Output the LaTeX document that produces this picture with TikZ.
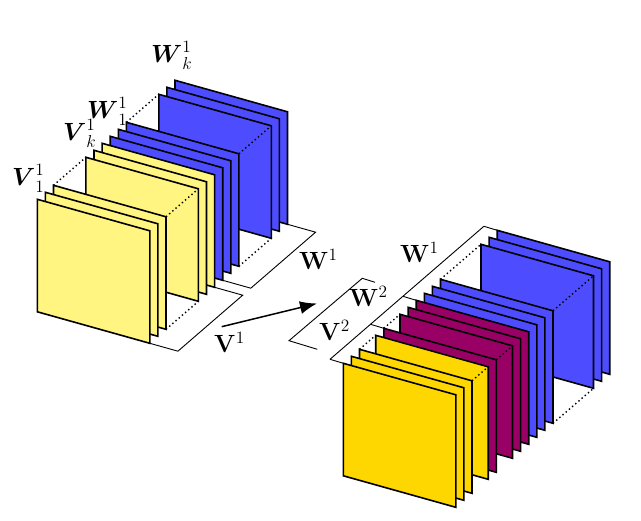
\documentclass[tikz,border=0pt]{standalone}
\usepackage{amsmath}
\usetikzlibrary{calc,arrows.meta}
\definecolor{lyel}{RGB}{255,245,128}
\definecolor{goldc}{RGB}{255,215,0}
\definecolor{purp}{RGB}{153,0,102}
\definecolor{blu}{RGB}{77,77,255}
\newcommand\sheetpl[3]{\filldraw[sheetst,fill=#3] ($(#1)+#2*(dv)$) -- ++(112.5,31.5) -- ++(0,112.5) -- ++(-112.5,-31.5) -- cycle;}
\newcommand\dotpl[4]{\draw[dotst] ($(#1)+#2*(dv)+#4$) -- ($(#1)+#3*(dv)+#4$);}
\begin{document}
\begin{tikzpicture}[x=1pt,y=-1pt,
  sheetst/.style={draw=black,line width=1.6pt,line join=miter},
  dotst/.style={line width=1.4pt,dash pattern=on 1.4pt off 2.8pt},
  basest/.style={line width=0.9pt,line join=miter},
  lab/.style={inner sep=0pt,anchor=base west,scale=1.2,font=\fontsize{20.74}{25}\selectfont}]
\useasboundingbox (0,0) rectangle (641,521);
\coordinate (dv) at (8.1,-7);
\coordinate (L0) at (37.3,199.3);
\coordinate (R0) at (343.3,363.3);
% ---------- left group: floor strips ----------
\draw[basest] ($(L0)+(112.5,144)$) -- ++(28.1,7.9) -- ($(L0)+(140.6,151.9)+8*(dv)$) -- ($(L0)+(112.5,144)+8*(dv)$);
\draw[basest] ($(L0)+(112.5,144)+9*(dv)$) -- ($(L0)+(140.6,151.9)+9*(dv)$) -- ($(L0)+(140.6,151.9)+17*(dv)$) -- ($(L0)+(112.5,144)+17*(dv)$);
% ---------- left group: sheets ----------
\foreach \k in {17,16,15,11,10,9} {\sheetpl{L0}{\k}{blu}}
\foreach \k in {8,7,6,2,1,0} {\sheetpl{L0}{\k}{lyel}}
\dotpl{L0}{2}{6}{(0,0)}
\dotpl{L0}{2}{6}{(112.5,31.5)}
\dotpl{L0}{2}{6}{(112.5,144)}
\dotpl{L0}{11}{15}{(0,0)}
\dotpl{L0}{11}{15}{(112.5,31.5)}
\dotpl{L0}{11}{15}{(112.5,144)}
% ---------- right group: brackets ----------
\draw[basest] ($(R0)+(-13.3,-4)$) -- ($(R0)+(-13.3,-4)+19*(dv)$);
\foreach \k in {0,5,9,19} {\draw[basest] ($(R0)+(-13.3,-4)+\k*(dv)$) -- ($(R0)+\k*(dv)$);}
\coordinate (w2a) at (317.3,349.3);
\coordinate (w2b) at (289,340.7);
\coordinate (w2c) at (362.3,278.3);
\coordinate (w2d) at (375,282.3);
\draw[basest] (w2a) -- (w2b) -- (w2c) -- (w2d);
% ---------- right group: sheets ----------
\foreach \k in {19,18,17,12,11,10} {\sheetpl{R0}{\k}{blu}}
\foreach \k in {9,8,7,5} {\sheetpl{R0}{\k}{purp}}
\foreach \k in {4,2,1,0} {\sheetpl{R0}{\k}{goldc}}
\dotpl{R0}{2}{4}{(0,0)}
\dotpl{R0}{2}{4}{(112.5,31.5)}
\dotpl{R0}{5}{7}{(0,0)}
\dotpl{R0}{5}{7}{(112.5,31.5)}
\dotpl{R0}{12}{17}{(0,0)}
\dotpl{R0}{12}{17}{(112.5,31.5)}
\dotpl{R0}{12}{17}{(112.5,144)}
% ---------- arrow ----------
\coordinate (aS) at (221.7,326.7);
\coordinate (aE) at (317,303.5);
\draw[line width=1.5pt,-{Latex[length=17pt,width=13pt]}] (aS) -- (aE);
% ---------- labels ----------
\node[lab] (lV11) at (12,186) {$\boldsymbol{V}_1^1$};
\node[lab] (lVk1) at (63,141) {$\boldsymbol{V}_k^1$};
\node[lab] (lW11) at (87,119) {$\boldsymbol{W}_1^1$};
\node[lab] (lWk1) at (151,63) {$\boldsymbol{W}_k^1$};
\node[lab] (lV1) at (214,353) {$\mathbf{V}^1$};
\node[lab] (lW1a) at (299,270) {$\mathbf{W}^1$};
\node[lab] (lW1b) at (400,263) {$\mathbf{W}^1$};
\node[lab] (lW2) at (349,307) {$\mathbf{W}^2$};
\node[lab] (lV2) at (319,340.7) {$\mathbf{V}^2$};
\end{tikzpicture}
\end{document}
